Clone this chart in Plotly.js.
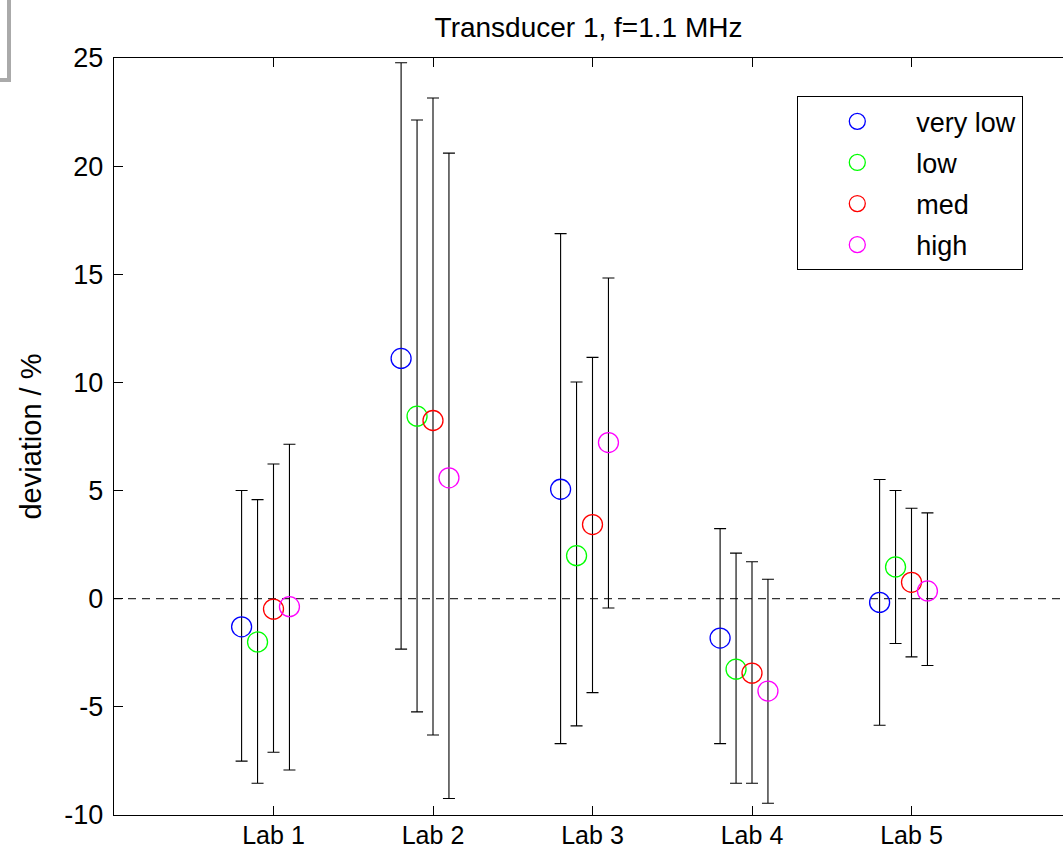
<!DOCTYPE html>
<html>
<head>
<meta charset="utf-8">
<script src="https://cdn.plot.ly/plotly-3.0.1.min.js"></script>
<style>html,body{margin:0;padding:0;background:#fff;}#chart{width:1063px;height:852px;}</style>
</head>
<body>
<div id="chart"></div>
<script>
// ---- data ----
const labs = ['Lab 1', 'Lab 2', 'Lab 3', 'Lab 4', 'Lab 5'];
const seriesNames = ['very low', 'low', 'med', 'high'];

const veryLowMean  = [-1.30, 11.11, 5.06, -1.82, -0.17];
const veryLowUpper = [5.00, 24.78, 16.88, 3.24, 5.51];
const veryLowLower = [-7.51, -2.33, -6.70, -6.70, -5.85];

const lowMean  = [-2.00, 8.44, 1.99, -3.26, 1.47];
const lowUpper = [4.58, 22.13, 10.02, 2.11, 5.00];
const lowLower = [-8.53, -5.23, -5.88, -8.53, -2.07];

const medMean  = [-0.48, 8.24, 3.43, -3.44, 0.76];
const medUpper = [6.23, 23.15, 11.16, 1.71, 4.18];
const medLower = [-7.10, -6.30, -4.34, -8.53, -2.69];

const highMean  = [-0.37, 5.59, 7.22, -4.27, 0.36];
const highUpper = [7.14, 20.60, 14.83, 0.90, 3.97];
const highLower = [-7.92, -9.24, -0.43, -9.46, -3.09];

const yTicks = [-10, -5, 0, 5, 10, 15, 20, 25];

// ---- styling ----
const colors = ['#0000ff', '#00ff00', '#ff0000', '#ff00ff'];
const offsets = [-0.2, -0.1, 0, 0.1];
const FONT = 'Liberation Sans, Arial, Helvetica, sans-serif';

const allMeans = [veryLowMean, lowMean, medMean, highMean];
const allUpper = [veryLowUpper, lowUpper, medUpper, highUpper];
const allLower = [veryLowLower, lowLower, medLower, highLower];

const traces = seriesNames.map((name, s) => ({
  type: 'scatter',
  mode: 'markers',
  name: name,
  legendgroup: 'g' + s,
  x: labs.map((_, i) => i + 1 + offsets[s]),
  y: allMeans[s],
  marker: {symbol: 'circle-open', size: 20, color: colors[s], line: {width: 1.3, color: colors[s]}},
  error_y: {
    type: 'data', symmetric: false,
    array: allMeans[s].map((m, i) => allUpper[s][i] - m),
    arrayminus: allMeans[s].map((m, i) => m - allLower[s][i]),
    color: '#000', thickness: 1.1, width: 6
  },
  cliponaxis: false
}));

const W = 1063, H = 852;
const mL = 114, mR = 0, mT = 58, mB = 37;
const plotW = W - mL - mR, plotH = H - mT - mB;
const pxPerUnit = 159.5;
const px2paperX = px => (px - mL) / plotW;
const px2paperY = py => (H - mB - py) / plotH;

const layout = {
  width: W, height: H,
  margin: {l: mL, r: mR, t: mT, b: mB, pad: 0},
  paper_bgcolor: '#fff', plot_bgcolor: '#fff',
  font: {family: FONT, size: 27, color: '#000'},
  title: {text: 'Transducer 1, f=1.1 MHz', font: {family: FONT, size: 28, color: '#000'},
          xref: 'paper', x: 0.5, xanchor: 'center', yref: 'container', y: 1 - 27 / H, yanchor: 'middle'},
  showlegend: true,
  legend: {
    x: px2paperX(797), y: px2paperY(96), xanchor: 'left', yanchor: 'top',
    bordercolor: '#000', borderwidth: 1.3, bgcolor: '#fff',
    font: {family: FONT, size: 27, color: '#000'},
    itemwidth: 108, tracegroupgap: 3, traceorder: 'grouped'
  },
  xaxis: {
    range: [0, plotW / pxPerUnit],
    tickmode: 'array', tickvals: labs.map((_, i) => i + 1), ticktext: labs,
    ticks: 'inside', ticklen: 9, tickwidth: 1, tickcolor: '#000',
    showline: true, linecolor: '#000', linewidth: 1.3, mirror: 'ticks',
    showgrid: false, zeroline: false,
    ticklabelstandoff: -2,
    tickfont: {family: FONT, size: 25, color: '#000'}
  },
  yaxis: {
    range: [-10, 25],
    tickmode: 'array', tickvals: yTicks, ticktext: yTicks.map(String),
    ticks: 'inside', ticklen: 9, tickwidth: 1, tickcolor: '#000',
    showline: true, linecolor: '#000', linewidth: 1.3, mirror: false,
    showgrid: false, zeroline: false,
    ticklabelstandoff: 4,
    tickfont: {family: FONT, size: 27, color: '#000'},
    title: {text: 'deviation / %', font: {family: FONT, size: 29, color: '#000'}, standoff: 14}
  },
  shapes: [
    {type: 'line', xref: 'paper', yref: 'y', x0: 0, x1: 1, y0: 0, y1: 0,
     line: {color: '#000', width: 1, dash: '8px,6px'}, layer: 'below'},
    {type: 'path', xref: 'paper', yref: 'paper',
     path: 'M ' + px2paperX(-2) + ' ' + px2paperY(80) + ' L ' + px2paperX(9) + ' ' + px2paperY(80) + ' L ' + px2paperX(9) + ' ' + px2paperY(-2),
     line: {color: '#aaaaaa', width: 4}}
  ]
};

Plotly.newPlot('chart', traces, layout, {staticPlot: true, displayModeBar: false});
</script>
</body>
</html>
